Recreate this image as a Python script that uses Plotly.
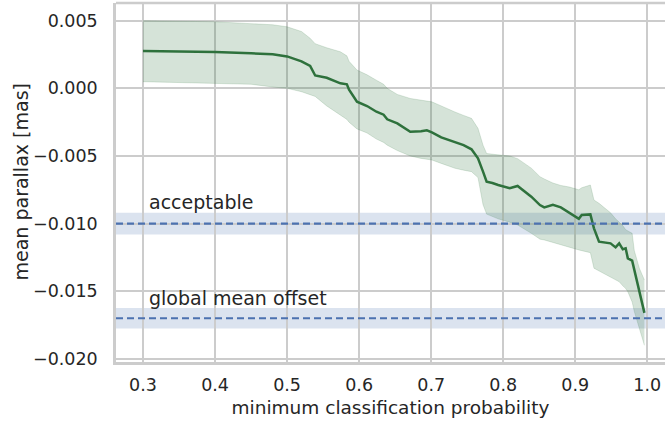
import plotly.graph_objects as go

# ---- data ----
prob = [0.30, 0.35, 0.40, 0.45, 0.48, 0.50, 0.52, 0.532, 0.539, 0.555, 0.574, 0.583, 0.586,
        0.597, 0.611, 0.624, 0.634, 0.639, 0.653, 0.671, 0.686, 0.694, 0.701, 0.714, 0.726,
        0.733, 0.745, 0.756, 0.765, 0.772, 0.777, 0.785, 0.793, 0.809, 0.820, 0.839, 0.851,
        0.857, 0.869, 0.880, 0.892, 0.905, 0.909, 0.921, 0.926, 0.933, 0.949, 0.956, 0.961,
        0.966, 0.970, 0.973, 0.979, 0.982, 0.989, 0.996]

mean_plx = [0.00276, 0.00274, 0.00268, 0.00259, 0.00252, 0.00236, 0.00200, 0.00165, 0.00095,
            0.00078, 0.00037, 0.00030, -0.00010, -0.00099, -0.00131, -0.00173, -0.00195,
            -0.00229, -0.00259, -0.00321, -0.00318, -0.00310, -0.00325, -0.00363, -0.00387,
            -0.00395, -0.00420, -0.00451, -0.00518, -0.00616, -0.00690, -0.00700, -0.00715,
            -0.00739, -0.00722, -0.00801, -0.00863, -0.00880, -0.00862, -0.00880, -0.00920,
            -0.00965, -0.00937, -0.00932, -0.01035, -0.01134, -0.01146, -0.01176, -0.01146,
            -0.01190, -0.01183, -0.01257, -0.01274, -0.01343, -0.01515, -0.01660]

upper_plx = [0.00500, 0.00498, 0.00492, 0.00478, 0.00470, 0.00455, 0.00420, 0.00370, 0.00330,
             0.00300, 0.00270, 0.00240, 0.00200, 0.00135, 0.00100, 0.00060, 0.00030, 0.00000,
             -0.00045, -0.00075, -0.00085, -0.00095, -0.00100, -0.00130, -0.00160, -0.00175,
             -0.00200, -0.00222, -0.00296, -0.00420, -0.00482, -0.00488, -0.00492, -0.00500,
             -0.00520, -0.00590, -0.00653, -0.00670, -0.00700, -0.00718, -0.00730, -0.00750,
             -0.00735, -0.00715, -0.00826, -0.00850, -0.00920, -0.00965, -0.00990, -0.01015,
             -0.01045, -0.01055, -0.01072, -0.01200, -0.01330, -0.01417]

lower_plx = [0.00049, 0.00044, 0.00037, 0.00030, 0.00010, 0.00000, -0.00025, -0.00045, -0.00060,
             -0.00130, -0.00200, -0.00230, -0.00250, -0.00300, -0.00330, -0.00375, -0.00400,
             -0.00420, -0.00460, -0.00500, -0.00518, -0.00525, -0.00530, -0.00555, -0.00580,
             -0.00591, -0.00605, -0.00616, -0.00660, -0.00860, -0.00930, -0.00950, -0.00965,
             -0.00990, -0.01010, -0.01072, -0.01115, -0.01121, -0.01140, -0.01158, -0.01180,
             -0.01195, -0.01200, -0.01215, -0.01330, -0.01350, -0.01390, -0.01410, -0.01430,
             -0.01460, -0.01480, -0.01504, -0.01580, -0.01650, -0.01780, -0.01900]

ref_names = ["acceptable", "global mean offset"]
ref_values = [-0.010, -0.017]
ref_halfwidth = [0.0008, 0.00075]

x_ticks = [0.3, 0.4, 0.5, 0.6, 0.7, 0.8, 0.9, 1.0]
y_ticks = [0.005, 0.000, -0.005, -0.010, -0.015, -0.020]

# ---- styling ----
GREEN = "rgb(46,113,60)"
GREEN_FILL = "rgba(46,113,60,0.2)"
BLUE = "#4c72b0"
BLUE_FILL = "rgba(76,114,176,0.2)"
TEXT = "#262626"
GRID = "#cccccc"
FONT = "DejaVu Sans"
CLEAR = "rgba(0,0,0,0)"

fig = go.Figure()

# shaded reference bands and dashed reference lines
for v, hw in zip(ref_values, ref_halfwidth):
    fig.add_shape(type="rect", xref="paper", yref="y", x0=0, x1=1, y0=v - hw, y1=v + hw,
                  fillcolor=BLUE_FILL, line_width=0, layer="between")
for v in ref_values:
    fig.add_shape(type="line", xref="paper", yref="y", x0=0, x1=1, y0=v, y1=v,
                  line=dict(color=BLUE, width=2.2, dash="7px,4px"), layer="above")

for name, v, hw in zip(ref_names, ref_values, ref_halfwidth):
    fig.add_annotation(x=0.305, y=v + hw, xref="x", yref="y", text=name, showarrow=False,
                       xanchor="left", yanchor="bottom", yshift=-2.5,
                       font=dict(family=FONT, size=19, color=TEXT))

# uncertainty band
fig.add_trace(go.Scatter(x=prob, y=upper_plx, mode="lines", line=dict(width=0.8, color=GREEN_FILL),
                         showlegend=False, hoverinfo="skip"))
fig.add_trace(go.Scatter(x=prob, y=lower_plx, mode="lines", line=dict(width=0.8, color=GREEN_FILL),
                         fill="tonexty", fillcolor=GREEN_FILL, showlegend=False, hoverinfo="skip"))
# mean line
fig.add_trace(go.Scatter(x=prob, y=mean_plx, mode="lines", line=dict(width=2.5, color=GREEN),
                         showlegend=False))

# top spine
fig.add_shape(type="line", xref="paper", yref="paper", x0=0, x1=1, y0=1, y1=1,
              line=dict(color=GRID, width=2.5), layer="above")

# y-axis title placed explicitly
fig.add_annotation(text="mean parallax [mas]", xref="paper", yref="paper",
                   x=(20 - 116) / 549, y=0.5, xanchor="center", yanchor="middle",
                   textangle=-90, showarrow=False,
                   font=dict(family=FONT, size=19, color=TEXT))

fig.update_layout(
    width=665, height=426,
    margin=dict(l=116, r=0, t=3, b=64),
    plot_bgcolor="white", paper_bgcolor="white",
    font=dict(family=FONT, color=TEXT),
    showlegend=False,
)
fig.update_xaxes(
    range=[0.2625, 1.0246], tickvals=x_ticks, ticktext=[f"{t:.1f}" for t in x_ticks],
    showgrid=True, gridcolor=GRID, gridwidth=1.5, zeroline=False,
    showline=True, linecolor=GRID, linewidth=2.5,
    ticks="outside", ticklen=5, tickcolor=CLEAR, tickfont=dict(family=FONT, size=17.5, color=TEXT),
    title=dict(text="minimum classification probability", font=dict(family=FONT, size=18.5, color=TEXT),
               standoff=8),
)
fig.update_yaxes(
    range=[-0.020234, 0.006309], tickvals=y_ticks,
    ticktext=[f"{t:.3f}".replace("-", "\u2212") if t != 0 else "0.000" for t in y_ticks],
    showgrid=True, gridcolor=GRID, gridwidth=1.5, zeroline=False,
    showline=True, linecolor=GRID, linewidth=2.5,
    ticks="outside", ticklen=12, tickcolor=CLEAR, tickfont=dict(family=FONT, size=17.5, color=TEXT),
)

fig.write_html("out.html")
